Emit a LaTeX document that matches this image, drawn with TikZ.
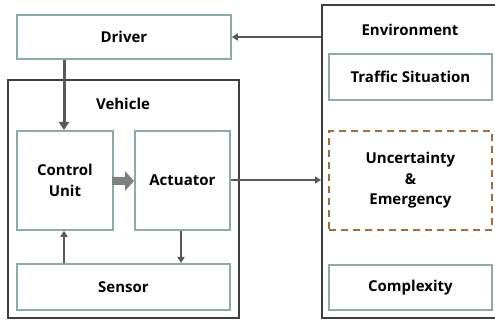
\documentclass[tikz,border=0pt]{standalone}
\usepackage{fontspec}
\setmainfont{Open Sans}
\usetikzlibrary{arrows.meta}
\definecolor{boxline}{HTML}{8FAAAA}
\definecolor{frameline}{HTML}{3F3F3F}
\definecolor{arrowline}{HTML}{595959}
\definecolor{dashline}{HTML}{A0703C}
\definecolor{blockarrow}{HTML}{7F7F7F}
\begin{document}
\begin{tikzpicture}[x=1pt,y=-1pt,
  inner/.style={draw=boxline,line width=1.8pt,fill=white,font=\fontsize{15}{20.5}\selectfont\bfseries,align=center},
  outer/.style={draw=frameline,line width=2.2pt},
  lbl/.style={font=\fontsize{15}{20}\selectfont\bfseries},
  conn/.style={draw=arrowline,line width=1.8pt,-{Triangle[length=6pt,width=7pt]}},
  thickconn/.style={draw=arrowline,line width=3pt,-{Triangle[length=8pt,width=10pt]}}]
\useasboundingbox (0,0) rectangle (495,320);
% outer frames
\draw[outer] (8,80) rectangle (239,318);
\draw[outer] (322,5) rectangle (497,318);
\node[lbl] (veh) at (123,104) {Vehicle};
\node[lbl] (env) at (410,30) {Environment};
% driver
\node[inner,minimum width=214pt,minimum height=44pt,anchor=north west] (drv) at (16,14) {Driver};
% vehicle parts
\node[inner,minimum width=96pt,minimum height=99pt,anchor=north west] (cu) at (16,130) {Control\\Unit};
\node[inner,minimum width=95pt,minimum height=99pt,anchor=north west] (act) at (134,130) {Actuator};
\node[inner,minimum width=213pt,minimum height=46pt,anchor=north west] (sen) at (16,263) {Sensor};
% environment parts
\node[inner,minimum width=163pt,minimum height=46pt,anchor=north west] (ts) at (328,53) {Traffic Situation};
\node[inner,draw=dashline,dash pattern=on 7pt off 5pt,minimum width=163pt,minimum height=99pt,anchor=north west] (ue) at (328,130) {Uncertainty\\\&\\Emergency};
\node[inner,minimum width=163pt,minimum height=45pt,anchor=north west] (cx) at (328,264) {Complexity};
% connector anchors on the environment frame
\coordinate (envin) at (321,37);
\coordinate (envout) at (321,180);
% connectors
\draw[conn] (envin) -- (drv.east |- envin);
\draw[thickconn] (drv.south -| 64,0) -- (cu.north -| 64,0);
\draw[conn] (act.east |- envout) -- (envout);
\draw[conn] (sen.north -| 64,0) -- (cu.south -| 64,0);
\draw[conn] (act.south -| 181,0) -- (sen.north -| 181,0);
% block arrow between control unit and actuator
\fill[blockarrow] (112,177) -- (125,177) -- (125,171) -- (134,181) -- (125,191) -- (125,185) -- (112,185) -- cycle;
\end{tikzpicture}
\end{document}
